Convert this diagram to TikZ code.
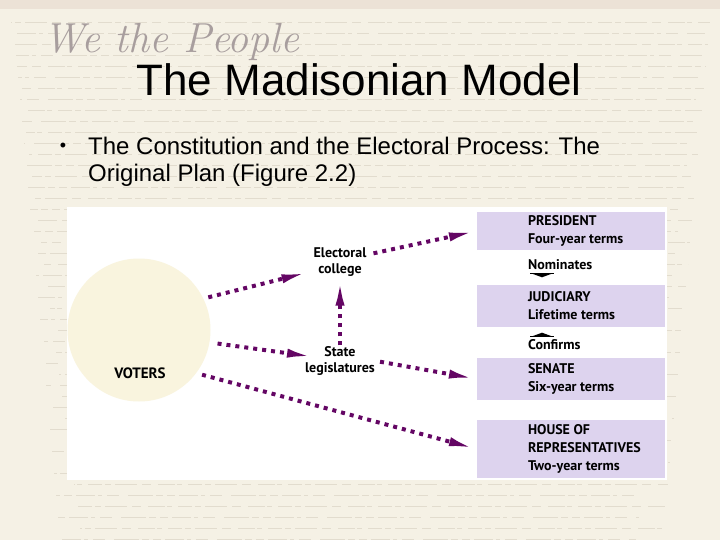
\documentclass[tikz,border=0pt]{standalone}
\usepackage{fontspec}
\setmainfont{Liberation Sans}
\newfontfamily\gill{PT Sans}
\newfontfamily\lmr{Latin Modern Roman}
\usetikzlibrary{arrows.meta,calc}
\definecolor{parch}{RGB}{245,241,229}
\definecolor{topband}{RGB}{236,226,214}
\definecolor{ink}{RGB}{205,196,178}
\definecolor{lav}{RGB}{221,211,238}
\definecolor{circfill}{RGB}{249,244,222}
\definecolor{arrowpurple}{RGB}{100,6,100}
\definecolor{scriptgray}{RGB}{168,158,158}
\tikzset{
  lbl/.style={font=\gill\bfseries\fontsize{14}{16}\selectfont, align=center, inner sep=1pt},
  boxtxt/.style={font=\gill\bfseries\fontsize{14}{18}\selectfont, align=left, anchor=west, inner sep=0pt},
  govbox/.style={fill=lav, minimum width=188pt, inner sep=0pt},
  vote/.style={line width=4pt, dash pattern=on 4pt off 5pt, draw=arrowpurple,
    -{Latex[length=28pt,width=9pt]}},
  scribblea/.style={draw=ink, line width=0.45pt, opacity=0.45,
    dash pattern=on 14pt off 3pt on 6pt off 4pt on 22pt off 5pt on 9pt off 7pt on 17pt off 2pt on 5pt off 6pt},
  scribbleb/.style={draw=ink, line width=0.45pt, opacity=0.45,
    dash pattern=on 8pt off 4pt on 19pt off 3pt on 4pt off 5pt on 12pt off 9pt on 25pt off 3pt on 7pt off 4pt},
}
\begin{document}
\begin{tikzpicture}[x=1pt,y=-1pt]
\useasboundingbox (0,0) rectangle (720,540);
\fill[parch] (0,0) rectangle (720,540);
\fill[topband] (0,0) rectangle (720,9);
% faint handwriting rows of the parchment
\foreach \yy [count=\k] in {22,44,...,535}{
  \draw[scribblea, dash phase=\k*13pt] (8+\k*3,\yy) -- (712-\k*2,\yy);
  \draw[scribbleb, dash phase=\k*9pt] (12+\k*2,\yy+11) -- (708-\k*3,\yy+11);
}
% script heading of the parchment
\node[font=\lmr\itshape\fontsize{42}{44}\selectfont, text=scriptgray, anchor=base west] (wtp) at (40,53) {We the People};
% title and bullet
\node[font=\fontsize{44}{48}\selectfont, anchor=base] (title) at (359,96) {The Madisonian Model};
\node[font=\fontsize{18}{20}\selectfont, anchor=center] (bul) at (63,147) {\textbullet};
\node[font=\fontsize{24}{27}\selectfont, anchor=north west, align=left, inner sep=0pt] (btext) at (88,136.5)
  {The Constitution and the Electoral Process: The\\Original Plan (Figure 2.2)};
% figure panel
\fill[white] (67,207) rectangle (667,480);
\node[circle, fill=circfill, minimum size=143pt, inner sep=0pt] (voters) at (139,330) {};
\node[lbl, font=\gill\bfseries\fontsize{15}{16}\selectfont] (votersl) at (140,373) {VOTERS};
\node[lbl] (ec) at (340,262) {Electoral\\college};
\node[lbl] (sl) at (340,361) {State\\legislatures};
% government boxes
\node[govbox, minimum height=38pt] (pres) at (571,231) {};
\node[boxtxt] (prest) at ([xshift=51pt]pres.west) {PRESIDENT\\Four-year terms};
\node[govbox, minimum height=42pt] (jud) at (571,306) {};
\node[boxtxt] (judt) at ([xshift=51pt]jud.west) {JUDICIARY\\Lifetime terms};
\node[govbox, minimum height=42pt] (sen) at (571,379) {};
\node[boxtxt] (sent) at ([xshift=51pt]sen.west) {SENATE\\Six-year terms};
\node[govbox, minimum height=58pt] (house) at (571,449) {};
\node[boxtxt] (houset) at ([xshift=51pt]house.west) {HOUSE OF\\REPRESENTATIVES\\Two-year terms};
\node[boxtxt] (nom) at (528,265) {Nominates};
\node[boxtxt] (conf) at (528,345) {Confirms};
% small black pointers
\draw[line width=0.8pt] ($(nom.south west)+(2,3)$) -- ++(24,0);
\fill ($(nom.south west)+(3,3)$) -- ++(22,0) -- ++(-11,4) -- cycle;
\draw[line width=0.8pt] ($(conf.north west)+(2,-3)$) -- ++(24,0);
\fill ($(conf.north west)+(3,-3)$) -- ++(22,0) -- ++(-11,-4) -- cycle;
% connectors
\draw[vote, shorten <=5pt] (voters.26) -- ($(ec.west)+(-3,10)$);
\draw[vote, shorten <=6pt] (ec.15) -- (pres.west);
\draw[vote] (sl.north) -- (ec.south);
\draw[vote, shorten <=8pt] (voters.-10) -- ($(sl.west)+(11,-4)$);
\draw[vote, shorten <=4pt] (sl.east) -- (sen.west);
\draw[vote, shorten <=6pt] (voters.-37) -- (house.west);
\end{tikzpicture}
\end{document}
